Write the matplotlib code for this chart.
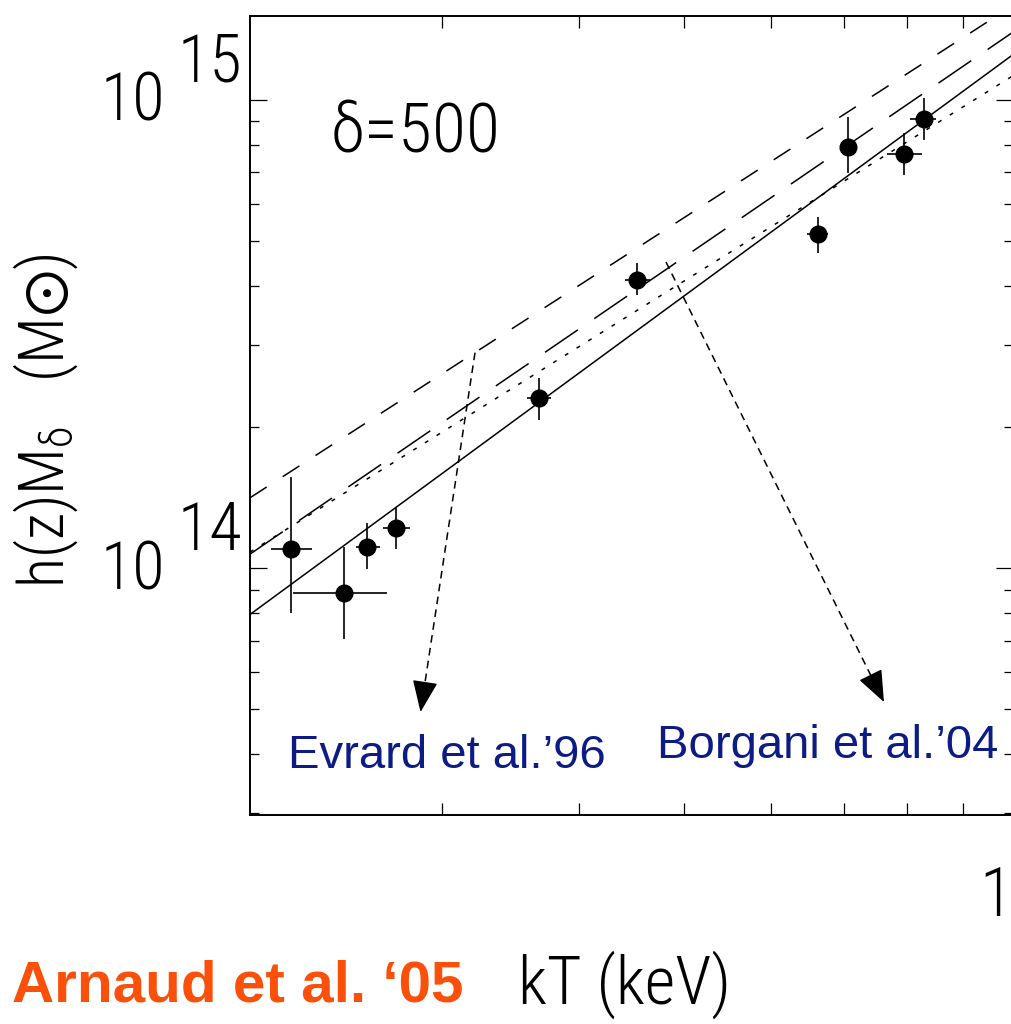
import matplotlib
matplotlib.use("Agg")
import matplotlib.pyplot as plt
from matplotlib.ticker import NullFormatter, FixedLocator

# thin plotting font (close to the old IDL/PGPLOT Hershey look)
thin = ['Roboto Condensed', 'Roboto', 'DejaVu Sans']
plt.rcParams['mathtext.default'] = 'regular'

# Cluster data: kT (keV) and h(z) M500 (units of 1e14 Msun)
kT = [2.18, 2.44, 2.56, 2.72, 3.68, 4.52, 6.63, 7.06, 7.95, 8.28]
kT_lo = [2.09, 2.19, 2.50, 2.65, 3.59, 4.41, 6.48, 6.94, 7.67, 8.04]
kT_hi = [2.28, 2.67, 2.63, 2.80, 3.77, 4.65, 6.77, 7.18, 8.25, 8.50]
M = [1.10, 0.883, 1.107, 1.219, 2.305, 4.125, 5.173, 7.925, 7.668, 9.095]
M_lo = [0.80, 0.705, 0.995, 1.098, 2.071, 3.832, 4.704, 6.974, 6.916, 8.213]
M_hi = [1.562, 1.107, 1.246, 1.352, 2.543, 4.478, 5.63, 9.21, 8.49, 10.08]

# power-law relations, end points at kT = 2 and 10 keV
T_fit = [2.0, 10.0]
M_solid = [7.96e13, 1.249e15]
M_longdash = [1.071e14, 1.395e15]
M_shortdash = [1.413e14, 1.591e15]
M_dotted = [1.082e14, 1.126e15]

fig = plt.figure(figsize=(10.12, 10.24), dpi=100)
ax = fig.add_axes([250 / 1012, 209 / 1024, 763 / 1012, 799 / 1024])
ax.set_xscale('log')
ax.set_yscale('log')
ax.set_xlim(2, 10)
ax.set_ylim(2.97e13, 1.51e15)

ax.plot(T_fit, M_solid, color='k', lw=1.1)
ax.plot(T_fit, M_longdash, color='k', lw=1.1, linestyle=(0, (26, 13)))
ax.plot(T_fit, M_shortdash, color='k', lw=1.1, linestyle=(0, (13, 12.5)))
ax.plot(T_fit, M_dotted, color='k', lw=1.1, linestyle=(0, (2.6, 6.4)))

Mv = [m * 1e14 for m in M]
yerr = [[(m - lo) * 1e14 for m, lo in zip(M, M_lo)],
        [(hi - m) * 1e14 for m, hi in zip(M, M_hi)]]
xerr = [[t - lo for t, lo in zip(kT, kT_lo)],
        [hi - t for t, hi in zip(kT, kT_hi)]]
ax.errorbar(kT, Mv, xerr=xerr, yerr=yerr, fmt='o', color='k', ms=12,
            elinewidth=1.2, capsize=0)

# ticks
ax.tick_params(which='both', direction='in', top=True, right=True, width=0.9)
ax.tick_params(which='major', length=12.2)
ax.xaxis.set_tick_params(which='minor', length=8.6)
ax.yaxis.set_tick_params(which='minor', length=6.5)
ax.xaxis.set_major_locator(FixedLocator([10]))
ax.xaxis.set_minor_locator(FixedLocator([3, 4, 5, 6, 7, 8, 9]))
ax.xaxis.set_minor_formatter(NullFormatter())
ax.set_xticklabels(['10'])
ax.tick_params(axis='x', which='major', pad=36, labelsize=50)
for lab in ax.get_xticklabels():
    lab.set_family(thin)
    lab.set_fontweight('light')
ax.yaxis.set_major_locator(FixedLocator([1e14, 1e15]))
ax.yaxis.set_major_formatter(NullFormatter())
ax.yaxis.set_minor_formatter(NullFormatter())
for s in ax.spines.values():
    s.set_linewidth(1.4)

# y tick labels written by hand: 10 with raised exponent
for val, ex in [(1e14, '14'), (1e15, '15')]:
    ax.annotate('10', xy=(0, val), xycoords=ax.get_yaxis_transform(),
                xytext=(-85, -3), textcoords='offset pixels', ha='right',
                va='center', fontsize=48, family=thin, fontweight='light')
    ax.annotate(ex, xy=(0, val), xycoords=ax.get_yaxis_transform(),
                xytext=(-72, 36), textcoords='offset pixels', ha='left',
                va='center', fontsize=48, family=thin, fontweight='light')

ax.text(0.1048, 0.8298, r'$\delta$=500', transform=ax.transAxes, fontsize=50,
        family=thin, fontweight='light', va='baseline')

# dashed arrows to the literature labels (dashed shaft, solid head)
arrows = [((0.2949, 0.5787), (0.2235, 0.1289)),
          ((0.5452, 0.6921), (0.8309, 0.1414))]
head_px = 20
for start, tip in arrows:
    dx = (tip[0] - start[0]) * 763
    dy = (tip[1] - start[1]) * 799
    L = (dx ** 2 + dy ** 2) ** 0.5
    base = (tip[0] - dx / L * head_px / 763, tip[1] - dy / L * head_px / 799)
    ax.plot([start[0], base[0]], [start[1], base[1]], transform=ax.transAxes,
            color='k', lw=1.1, linestyle=(0, (5, 3.5)))
    ax.annotate('', xy=tip, xytext=base, xycoords='axes fraction',
                arrowprops=dict(arrowstyle='-|>,head_length=1.0,head_width=0.4',
                                mutation_scale=20, color='k', lw=1.0,
                                shrinkA=0, shrinkB=0))

navy = '#0c1c84'
ax.text(0.0498, 0.0588, "Evrard et al.\u201996", transform=ax.transAxes,
        fontsize=34, family='Liberation Sans', color=navy, va='baseline')
ax.text(0.5334, 0.0713, "Borgani et al.\u201904", transform=ax.transAxes,
        fontsize=34, family='Liberation Sans', color=navy, va='baseline')

fig.text(625 / 1012, 1 - 985 / 1024, 'kT (keV)', fontsize=48, family=thin,
         fontweight='light', ha='center', va='center')
fig.text(12 / 1012, 1 - 1002 / 1024, 'Arnaud et al. \u201805', fontsize=42,
         family='Liberation Sans', fontweight='bold', color='#fa500a',
         va='baseline')
fig.text(46 / 1012, 1 - 421 / 1024, r'h(z)M$_\delta$   (M$\odot$)', fontsize=45,
         family=thin, fontweight='light', rotation=90, ha='center',
         va='center')

fig.savefig('out.png', dpi=100)
